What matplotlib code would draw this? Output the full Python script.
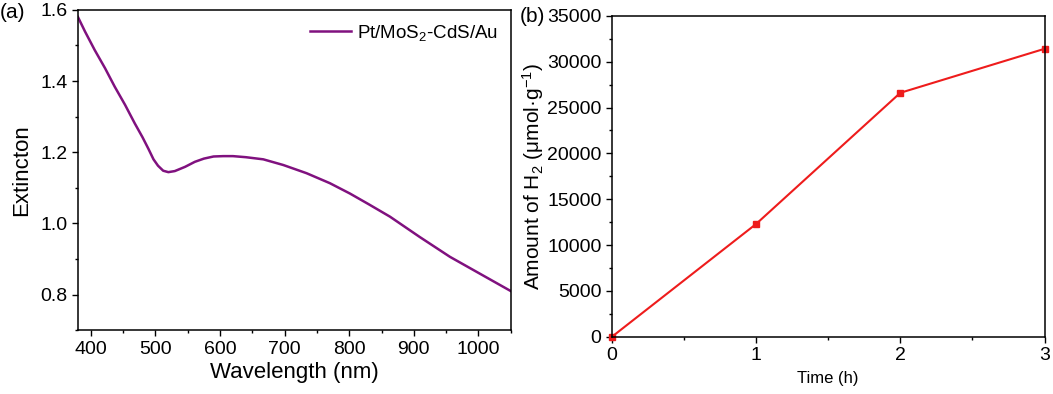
import matplotlib
matplotlib.use('Agg')
import matplotlib.pyplot as plt
from matplotlib.ticker import MultipleLocator

plt.rcParams['font.family'] = ['Liberation Sans', 'DejaVu Sans']
plt.rcParams['mathtext.fontset'] = 'custom'
plt.rcParams['mathtext.rm'] = 'Liberation Sans'
plt.rcParams['mathtext.it'] = 'Liberation Sans'

# (a) espectro de extinción
wavelength = [380, 391, 406, 422, 437, 453, 468, 480, 489, 497, 504, 512, 520, 530, 546,
              561, 575, 590, 605, 620, 640, 667, 698, 734, 770, 801, 830, 863, 909,
              956, 1002, 1050]
extinction = [1.580, 1.539, 1.487, 1.436, 1.384, 1.333, 1.281, 1.242, 1.210, 1.180, 1.162,
              1.148, 1.144, 1.147, 1.159, 1.173, 1.182, 1.188, 1.189, 1.189, 1.186,
              1.180, 1.164, 1.141, 1.113, 1.084, 1.054, 1.019, 0.962, 0.906, 0.859,
              0.810]

# (b) producción de H2
time_h = [0, 1, 2, 3]
h2_amount = [0, 12300, 26600, 31400]

fig = plt.figure(figsize=(10.53, 3.94), dpi=100)

ax1 = fig.add_axes([0.074, 0.162, 0.411, 0.813])
ax1.plot(wavelength, extinction, color='#80117f', linewidth=1.8, label='Pt/MoS$_2$-CdS/Au')
ax1.set_xlim(380, 1050)
ax1.set_ylim(0.7, 1.6)
ax1.xaxis.set_major_locator(MultipleLocator(100))
ax1.xaxis.set_minor_locator(MultipleLocator(50))
ax1.yaxis.set_minor_locator(MultipleLocator(0.1))
ax1.set_yticks([0.8, 1.0, 1.2, 1.4, 1.6])
ax1.set_yticklabels(['0.8', '1.0', '1.2', '1.4', '1.6'])
ax1.tick_params(which='major', length=4, width=1, labelsize=14)
ax1.tick_params(which='minor', length=2.5, width=1)
ax1.set_xlabel('Wavelength (nm)', fontsize=16, labelpad=3)
ax1.set_ylabel('Extincton', fontsize=16, labelpad=6)
ax1.legend(loc='upper right', frameon=False, fontsize=13.5, handlelength=2.2,
           handletextpad=0.3, borderaxespad=0.3)
fig.text(0.0, 0.955, '(a)', fontsize=15)

ax2 = fig.add_axes([0.581, 0.145, 0.411, 0.815])
ax2.plot(time_h, h2_amount, color='#ee1c1c', linewidth=1.5, marker='s', markersize=5)
ax2.set_xlim(0, 3)
ax2.set_ylim(0, 35000)
ax2.xaxis.set_major_locator(MultipleLocator(1))
ax2.xaxis.set_minor_locator(MultipleLocator(0.5))
ax2.yaxis.set_major_locator(MultipleLocator(5000))
ax2.yaxis.set_minor_locator(MultipleLocator(2500))
ax2.tick_params(which='major', length=4, width=1, labelsize=14)
ax2.tick_params(which='minor', length=2.5, width=1)
ax2.set_xlabel('Time (h)', fontsize=12, labelpad=5)
ax2.set_ylabel('Amount of H$_2$ (\u03bcmol\u00b7g$^{-1}$)', fontsize=15, labelpad=1)
for a in (ax1, ax2):
    for s in a.spines.values():
        s.set_linewidth(1.1)
for line in ax2.lines:
    line.set_clip_on(False)
fig.text(0.494, 0.945, '(b)', fontsize=15)

plt.savefig('out.png', dpi=100)
